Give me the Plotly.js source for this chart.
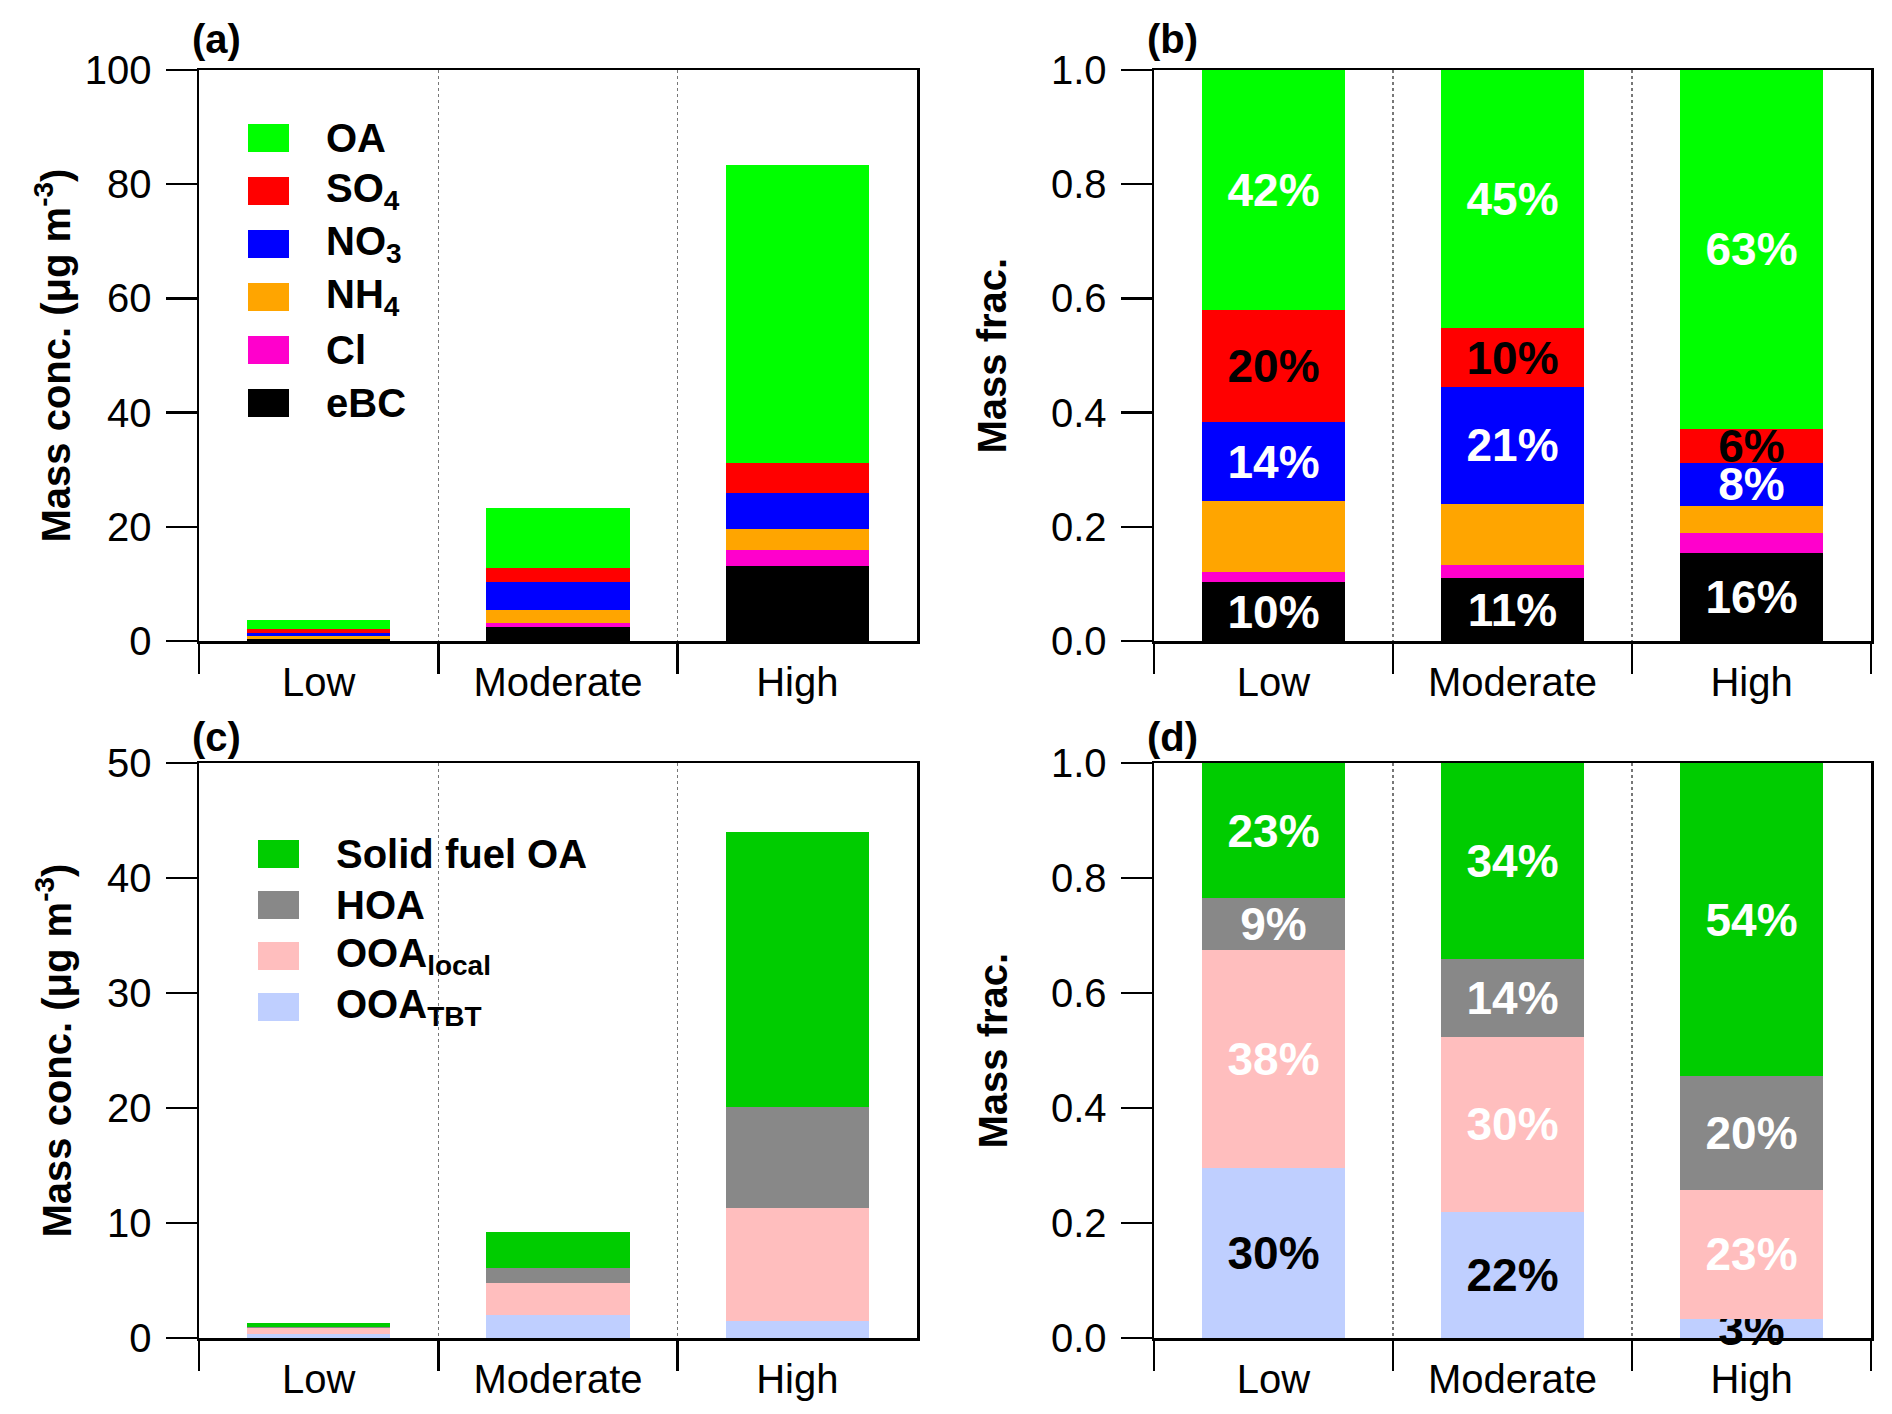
<!DOCTYPE html>
<html>
<head>
<meta charset="utf-8">
<script src="https://cdn.plot.ly/plotly-3.0.1.min.js"></script>
<style>
  html, body { margin: 0; padding: 0; background: #fff; }
  #chart { width: 1892px; height: 1414px; }
</style>
</head>
<body>
<div id="chart"></div>
<script>
const categories = ["Low", "Moderate", "High"];

// (a) inorganic + OA mass concentration, ug m-3
const concEBC = [0.37, 2.5, 13.2];
const concCl = [0.06, 0.6, 2.7];
const concNH4 = [0.45, 2.4, 3.8];
const concNO3 = [0.5, 4.9, 6.3];
const concSO4 = [0.7, 2.4, 5.1];
const concOA = [1.6, 10.5, 52.2];

// (b) mass fractions
const fracEBC = [0.103, 0.110, 0.155];
const fracCl = [0.017, 0.023, 0.035];
const fracNH4 = [0.125, 0.107, 0.047];
const fracNO3 = [0.138, 0.205, 0.075];
const fracSO4 = [0.197, 0.103, 0.060];
const fracOA = [0.420, 0.452, 0.628];
const labelEBC = ["10%", "11%", "16%"];
const labelNO3 = ["14%", "21%", "8%"];
const labelSO4 = ["20%", "10%", "6%"];
const labelOA = ["42%", "45%", "63%"];

// (c) OA factor mass concentration, ug m-3
const concTBT = [0.38, 2.0, 1.5];
const concLocal = [0.49, 2.75, 9.8];
const concHOA = [0.12, 1.3, 8.8];
const concSFOA = [0.31, 3.15, 23.9];

// (d) OA factor fractions
const fracTBT = [0.295, 0.220, 0.033];
const fracLocal = [0.380, 0.303, 0.225];
const fracHOA = [0.090, 0.137, 0.197];
const fracSFOA = [0.235, 0.340, 0.545];
const labelTBT = ["30%", "22%", "3%"];
const labelLocal = ["38%", "30%", "23%"];
const labelHOA = ["9%", "14%", "20%"];
const labelSFOA = ["23%", "34%", "54%"];

const speciesNames = ["OA", "SO<sub>4</sub>", "NO<sub>3</sub>", "NH<sub>4</sub>", "Cl", "eBC"];
const speciesColors = ["#00ff00", "#ff0000", "#0000ff", "#ffa500", "#ff00cc", "#000000"];
const factorNames = ["Solid fuel OA", "HOA", "OOA<sub>local</sub>", "OOA<sub>TBT</sub>"];
const factorColors = ["#00cc00", "#888888", "#ffbebe", "#bfcfff"];

const W = 1892;
const H = 1414;
const FONT = "Liberation Sans, Arial, sans-serif";
const px = (x) => x / W;
const py = (y) => 1 - y / H;

const bar = (values, color, xa, ya, text, textColor) => ({
  type: "bar",
  x: categories,
  y: values,
  xaxis: xa,
  yaxis: ya,
  marker: { color: color, line: { width: 0 } },
  text: text || null,
  textposition: text ? "inside" : "none",
  insidetextanchor: "middle",
  constraintext: "none",
  textangle: 0,
  cliponaxis: false,
  textfont: { family: FONT, size: 46, color: textColor || "#fff", weight: "bold" },
  hoverinfo: "skip",
  showlegend: false
});

// stacked bottom to top
const data = [
  bar(concEBC, speciesColors[5], "x", "y"),
  bar(concCl, speciesColors[4], "x", "y"),
  bar(concNH4, speciesColors[3], "x", "y"),
  bar(concNO3, speciesColors[2], "x", "y"),
  bar(concSO4, speciesColors[1], "x", "y"),
  bar(concOA, speciesColors[0], "x", "y"),

  bar(fracEBC, speciesColors[5], "x2", "y2", labelEBC, "#fff"),
  bar(fracCl, speciesColors[4], "x2", "y2"),
  bar(fracNH4, speciesColors[3], "x2", "y2"),
  bar(fracNO3, speciesColors[2], "x2", "y2", labelNO3, "#fff"),
  bar(fracSO4, speciesColors[1], "x2", "y2", labelSO4, "#000"),
  bar(fracOA, speciesColors[0], "x2", "y2", labelOA, "#fff"),

  bar(concTBT, factorColors[3], "x3", "y3"),
  bar(concLocal, factorColors[2], "x3", "y3"),
  bar(concHOA, factorColors[1], "x3", "y3"),
  bar(concSFOA, factorColors[0], "x3", "y3"),

  bar(fracTBT, factorColors[3], "x4", "y4", labelTBT, "#000"),
  bar(fracLocal, factorColors[2], "x4", "y4", labelLocal, "#fff"),
  bar(fracHOA, factorColors[1], "x4", "y4", labelHOA, "#fff"),
  bar(fracSFOA, factorColors[0], "x4", "y4", labelSFOA, "#fff")
];

const xAxis = (left, right, anchor) => ({
  domain: [px(left), px(right)],
  anchor: anchor,
  type: "category",
  range: [-0.5, 2.5],
  tickson: "boundaries",
  ticks: "outside",
  ticklen: 30,
  tickwidth: 2.5,
  tickcolor: "#000",
  ticklabelstandoff: 4,
  showline: true,
  mirror: true,
  linecolor: "#000",
  linewidth: 2.5,
  showgrid: true,
  gridcolor: "#777",
  gridwidth: 1.5,
  griddash: "3px,3px",
  tickfont: { family: FONT, size: 40, color: "#000" },
  fixedrange: true
});

const yAxis = (top, bottom, anchor, range, dtick, fmt) => ({
  domain: [py(bottom), py(top)],
  anchor: anchor,
  range: range,
  dtick: dtick,
  tick0: 0,
  tickformat: fmt,
  ticks: "outside",
  ticklen: 31,
  tickwidth: 2.5,
  tickcolor: "#000",
  ticklabelstandoff: 6,
  showline: true,
  mirror: true,
  linecolor: "#000",
  linewidth: 2.5,
  showgrid: false,
  zeroline: false,
  tickfont: { family: FONT, size: 40, color: "#000" },
  fixedrange: true
});

const LEFT_A = 199, RIGHT_A = 917, LEFT_B = 1154, RIGHT_B = 1871;
const TOP_1 = 70, BOT_1 = 641, TOP_2 = 763, BOT_2 = 1338;

const shapes = [];
const annotations = [];

const addText = (x, y, text, opts) => {
  annotations.push(Object.assign({
    xref: "paper", yref: "paper", x: px(x), y: py(y), text: text,
    showarrow: false, xanchor: "left", yanchor: "middle",
    font: { family: FONT, size: 40, color: "#000", weight: "bold" }
  }, opts || {}));
};

// legends drawn as squares + labels, as in the original figure
const addLegend = (names, colors, boxLeft, firstY, step, textLeft) => {
  names.forEach((name, i) => {
    const cy = firstY + i * step;
    shapes.push({
      type: "rect", xref: "paper", yref: "paper",
      x0: px(boxLeft), x1: px(boxLeft + 41), y0: py(cy + 14), y1: py(cy - 14),
      fillcolor: colors[i], line: { width: 0 }
    });
    addText(textLeft, cy, name);
  });
};
addLegend(speciesNames, speciesColors, 248, 138, 53, 324);
addLegend(factorNames, factorColors, 258, 854, 51, 334);

// panel tags
addText(190, 39, "(a)");
addText(1145, 39, "(b)");
addText(190, 737, "(c)");
addText(1145, 737, "(d)");

// y-axis titles
const yTitle = (x, top, bottom, text) => addText(x, (top + bottom) / 2, text, {
  textangle: -90, xanchor: "center", yanchor: "middle"
});
yTitle(54, TOP_1, BOT_1, "Mass conc. (μg m<sup>-3</sup>)");
yTitle(992, TOP_1, BOT_1, "Mass frac.");
yTitle(54, TOP_2, BOT_2, "Mass conc. (μg m<sup>-3</sup>)");
yTitle(992, TOP_2, BOT_2, "Mass frac.");

const layout = {
  width: W,
  height: H,
  margin: { l: 0, r: 0, t: 0, b: 0 },
  paper_bgcolor: "#fff",
  plot_bgcolor: "#fff",
  barmode: "stack",
  bargap: 0.4,
  showlegend: false,
  font: { family: FONT, color: "#000" },
  xaxis: xAxis(LEFT_A, RIGHT_A, "y"),
  yaxis: yAxis(TOP_1, BOT_1, "x", [0, 100], 20),
  xaxis2: xAxis(LEFT_B, RIGHT_B, "y2"),
  yaxis2: yAxis(TOP_1, BOT_1, "x2", [0, 1], 0.2, ".1f"),
  xaxis3: xAxis(LEFT_A, RIGHT_A, "y3"),
  yaxis3: yAxis(TOP_2, BOT_2, "x3", [0, 50], 10),
  xaxis4: xAxis(LEFT_B, RIGHT_B, "y4"),
  yaxis4: yAxis(TOP_2, BOT_2, "x4", [0, 1], 0.2, ".1f"),
  shapes: shapes,
  annotations: annotations
};

Plotly.newPlot("chart", data, layout, { displayModeBar: false, staticPlot: true });
</script>
</body>
</html>
